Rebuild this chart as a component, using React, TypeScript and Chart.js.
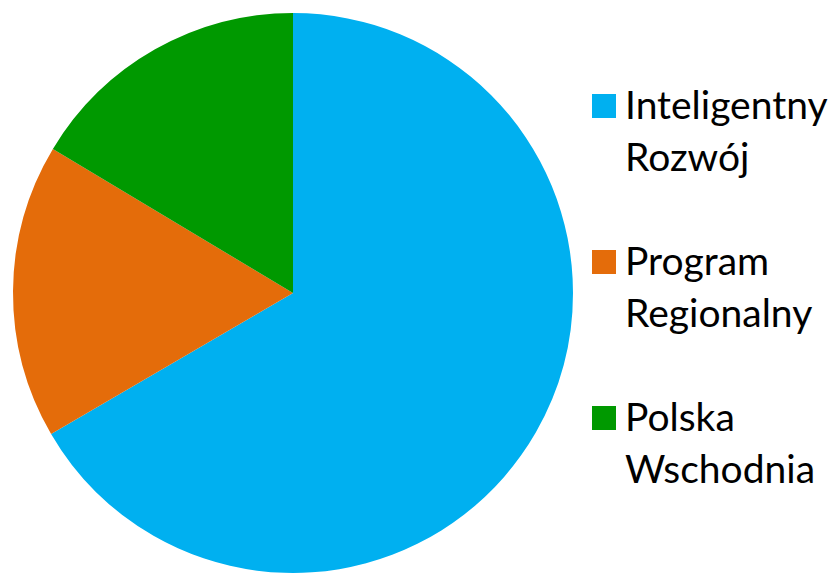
import React, { useEffect, useRef } from "react";
import { Chart, registerables } from "chart.js";

Chart.register(...registerables);

const categories = ["Inteligentny Rozwój", "Program Regionalny", "Polska Wschodnia"];
const shares = [66.6, 17.0, 16.4];
const colors = ["#00B0F0", "#E46C0A", "#009900"];

const FONT = "Lato, 'Open Sans', sans-serif";

export default function App() {
  const canvasRef = useRef<HTMLCanvasElement | null>(null);

  useEffect(() => {
    const canvas = canvasRef.current;
    if (!canvas) return;
    const chart = new Chart(canvas, {
      type: "pie",
      data: {
        labels: categories,
        datasets: [
          {
            data: shares,
            backgroundColor: colors,
            borderWidth: 0,
          },
        ],
      },
      options: {
        responsive: false,
        animation: false,
        layout: { padding: { top: 13, left: 0, right: 0, bottom: 0 } },
        plugins: {
          legend: { display: false },
          tooltip: { enabled: false },
        },
      },
    });
    return () => chart.destroy();
  }, []);

  return (
    <div
      style={{
        position: "fixed",
        left: 0,
        top: 0,
        width: 840,
        height: 573,
        background: "#ffffff",
        overflow: "hidden",
      }}
    >
      <canvas
        ref={canvasRef}
        width={586}
        height={573}
        style={{ position: "absolute", left: 0, top: 0, width: 586, height: 573 }}
      />
      <div
        style={{
          position: "absolute",
          left: 592,
          top: 78,
          display: "flex",
          flexDirection: "column",
          gap: 52,
          fontFamily: FONT,
          fontSize: 39,
          lineHeight: "52px",
          color: "#000000",
        }}
      >
        {categories.map((c, i) => (
          <div key={c} style={{ position: "relative", paddingLeft: 33 }}>
            <div
              style={{
                position: "absolute",
                left: 0,
                top: 16,
                width: 24,
                height: 24,
                background: colors[i],
              }}
            />
            {c.split(" ").map((w, j) => (
              <div key={j} style={{ whiteSpace: "nowrap" }}>
                {w}
              </div>
            ))}
          </div>
        ))}
      </div>
    </div>
  );
}
